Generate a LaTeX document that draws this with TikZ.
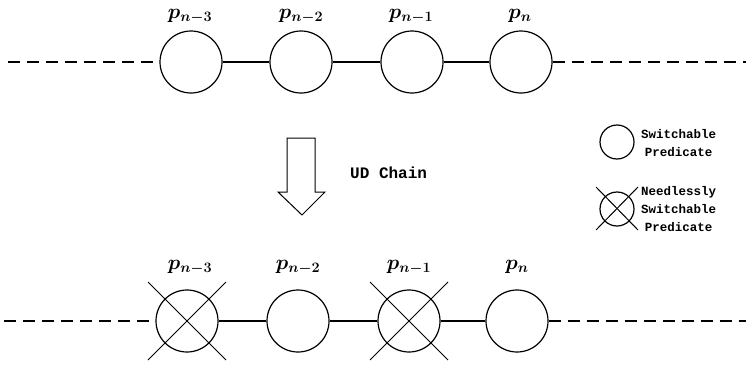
\documentclass[tikz,border=0pt]{standalone}
\usepackage{amsmath}
\usepackage{fontspec}
\newfontfamily\monofont{Liberation Mono}
\begin{document}
\begin{tikzpicture}[x=1pt,y=-1pt,
  pred/.style={circle,draw,line width=1.2pt,minimum size=62pt,inner sep=0pt},
  legcirc/.style={circle,draw,line width=1.2pt,minimum size=34pt,inner sep=0pt},
  link/.style={line width=1.2pt},
  dashlink/.style={line width=1.5pt,dash pattern=on 12pt off 7pt},
  crossline/.style={line width=1pt},
  lab/.style={font=\fontsize{21}{24}\selectfont,inner sep=0pt},
  legtext/.style={font=\monofont\bfseries\fontsize{12.5}{18}\selectfont,align=center,inner sep=0pt},
  chaintext/.style={font=\monofont\bfseries\fontsize{16}{18}\selectfont,inner sep=0pt}]
\useasboundingbox (0,0) rectangle (746,364);
% top row
\node[pred] (a1) at (191,62) {};
\node[pred] (a2) at (301,62) {};
\node[pred] (a3) at (412,62) {};
\node[pred] (a4) at (521,62) {};
\coordinate (al) at (8,62);
\coordinate (ar) at (746,62);
\draw[dashlink] (al) -- (a1.west);
\draw[dashlink] (a4.east) -- (ar);
\draw[link] (a1) -- (a2);
\draw[link] (a2) -- (a3);
\draw[link] (a3) -- (a4);
\node[lab] (la1) at (190,16) {$\boldsymbol{p_{n-3}}$};
\node[lab] (la2) at (301,16) {$\boldsymbol{p_{n-2}}$};
\node[lab] (la3) at (411,16) {$\boldsymbol{p_{n-1}}$};
\node[lab] (la4) at (520,16) {$\boldsymbol{p_{n}}$};
% arrow
\draw[line width=1pt,line join=miter] (287,138) -- (315,138) -- (315,192) -- (325,192) -- (302,215) -- (278,192) -- (287,192) -- cycle;
\node[chaintext,anchor=west] (ud) at (350,173) {UD Chain};
% bottom row
\node[pred] (b1) at (187,321) {};
\node[pred] (b2) at (298,321) {};
\node[pred] (b3) at (409,321) {};
\node[pred] (b4) at (517,321) {};
\coordinate (bl) at (4,321);
\coordinate (br) at (746,321);
\draw[dashlink] (bl) -- (b1.west);
\draw[dashlink] (b4.east) -- (br);
\draw[link] (b1) -- (b2);
\draw[link] (b2) -- (b3);
\draw[link] (b3) -- (b4);
\draw[crossline] ([shift={(-39,-39)}]b1.center) -- ([shift={(39,39)}]b1.center);
\draw[crossline] ([shift={(-39,39)}]b1.center) -- ([shift={(39,-39)}]b1.center);
\draw[crossline] ([shift={(-39,-39)}]b3.center) -- ([shift={(39,39)}]b3.center);
\draw[crossline] ([shift={(-39,39)}]b3.center) -- ([shift={(39,-39)}]b3.center);
\node[lab] (lb1) at (190,267) {$\boldsymbol{p_{n-3}}$};
\node[lab] (lb2) at (298,267) {$\boldsymbol{p_{n-2}}$};
\node[lab] (lb3) at (409,267) {$\boldsymbol{p_{n-1}}$};
\node[lab] (lb4) at (517,267) {$\boldsymbol{p_{n}}$};
% legend
\node[legcirc] (g1) at (617,142) {};
\node[legtext,anchor=west] (t1) at (641,143) {Switchable\\Predicate};
\node[legcirc] (g2) at (617,209) {};
\draw[crossline] ([shift={(-21,-22)}]g2.center) -- ([shift={(21,21)}]g2.center);
\draw[crossline] ([shift={(-21,21)}]g2.center) -- ([shift={(21,-22)}]g2.center);
\node[legtext,anchor=west] (t2) at (641,209) {Needlessly\\Switchable\\Predicate};
\end{tikzpicture}
\end{document}
